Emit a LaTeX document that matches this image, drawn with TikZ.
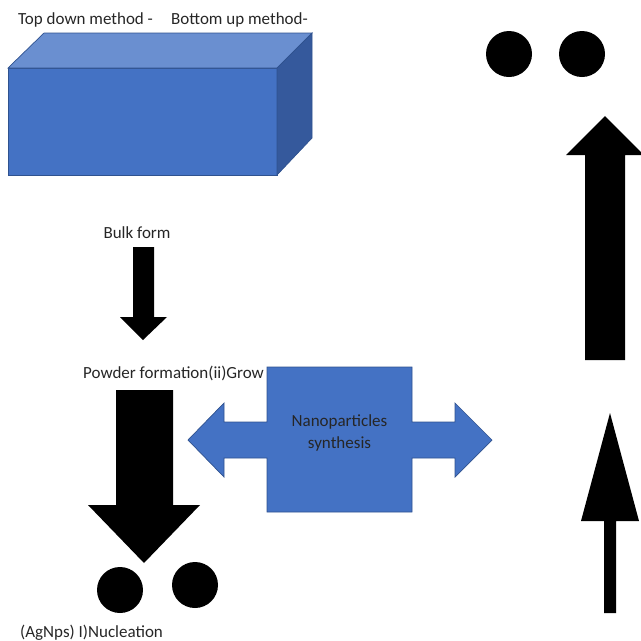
\documentclass[tikz,border=0pt]{standalone}
\usepackage{fontspec}
\setmainfont{Carlito}
\usetikzlibrary{positioning}
\definecolor{boxfront}{HTML}{4472C4}
\definecolor{boxtop}{HTML}{6A8FD0}
\definecolor{boxside}{HTML}{35599C}
\definecolor{boxedge}{HTML}{2F528F}
\tikzset{lbl/.style={draw=none, fill=none, inner sep=0pt,
  font=\fontsize{17}{22}\selectfont, text=black!85}}

\begin{document}
\begin{tikzpicture}[x=1pt, y=-1pt,
  blk/.style={fill=black, draw=none},
  blu/.style={fill=boxfront, draw=boxedge, line width=0.7pt},
  dot/.style={circle, fill=black, draw=none, minimum size=46pt, inner sep=0pt}]
  \useasboundingbox (0,0) rectangle (641,641);
  \clip (0,0) rectangle (641,641);
  % headings
  \node[lbl, anchor=base west] (topdown) at (18,24) {Top down method -};
  \node[lbl, anchor=base west] (bottomup) at (171,24) {Bottom up method-};
  % bulk block
  \draw[blu] (8,68) rectangle (277,175);
  \draw[blu, fill=boxtop] (8,68) -- (44,33) -- (312,33) -- (277,68) -- cycle;
  \draw[blu, fill=boxside] (277,68) -- (312,33) -- (312,138) -- (277,175) -- cycle;
  % top down side
  \node[lbl, anchor=base] (bulk) at (137,238) {Bulk form};
  \fill[blk] (133,247) -- (154,247) -- (154,317) -- (167,317) -- (143,340)
    -- (120,317) -- (133,317) -- cycle;
  \node[lbl, anchor=base west] (powder) at (83,378) {Powder formation(ii)Grow};
  \fill[blk] (116,390) -- (173,390) -- (173,505) -- (200,505) -- (144,563)
    -- (88,505) -- (116,505) -- cycle;
  \node[dot] (np1) at (120,590) {};
  \node[dot] (np2) at (195,585) {};
  \node[lbl, anchor=base west] (nucl) at (20,637) {(AgNps) I)Nucleation};
  % synthesis cross
  \draw[blu] (267,367) -- (412,367) -- (412,422) -- (455,422) -- (455,403)
    -- (492,440) -- (455,477) -- (455,458) -- (412,458) -- (412,512)
    -- (267,512) -- (267,458) -- (224,458) -- (224,477) -- (188,440)
    -- (224,403) -- (224,422) -- (267,422) -- cycle;
  \node[lbl, anchor=base] (nano) at (339.5,426) {Nanoparticles};
  \node[lbl, anchor=base] (synth) at (339.5,448) {synthesis};
  % bottom up side
  \fill[blk] (604,613) -- (616,613) -- (616,521) -- (639,521) -- (610,413)
    -- (581,521) -- (604,521) -- cycle;
  \fill[blk] (585,360) -- (625,360) -- (625,155) -- (644,155) -- (605,116)
    -- (566,155) -- (585,155) -- cycle;
  \node[dot] (np3) at (509,54) {};
  \node[dot] (np4) at (582,54) {};
\end{tikzpicture}
\end{document}
